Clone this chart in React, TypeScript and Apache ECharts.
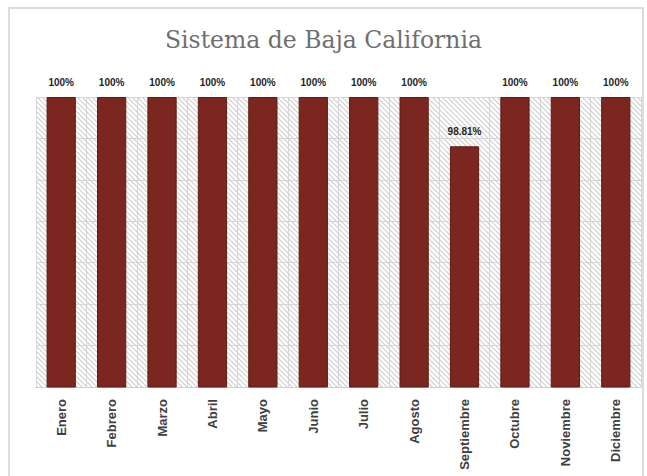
import React, { useEffect, useRef } from "react";
import * as echarts from "echarts";

const months = ["Enero", "Febrero", "Marzo", "Abril", "Mayo", "Junio", "Julio", "Agosto", "Septiembre", "Octubre", "Noviembre", "Diciembre"];
const values = [100, 100, 100, 100, 100, 100, 100, 100, 98.81, 100, 100, 100];
const yMin = 93;
const yMax = 100;
const yStep = 1;

function makeHatch(): HTMLCanvasElement {
  const c = document.createElement("canvas");
  const s = 5;
  c.width = s;
  c.height = s;
  const ctx = c.getContext("2d")!;
  ctx.fillStyle = "#ffffff";
  ctx.fillRect(0, 0, s, s);
  ctx.strokeStyle = "#cfcfcf";
  ctx.lineWidth = 1.2;
  ctx.beginPath();
  ctx.moveTo(-1, -1);
  ctx.lineTo(s + 1, s + 1);
  ctx.moveTo(-1, s - 1);
  ctx.lineTo(1, s + 1);
  ctx.moveTo(s - 1, -1);
  ctx.lineTo(s + 1, 1);
  ctx.stroke();
  return c;
}

export default function App() {
  const ref = useRef<HTMLDivElement>(null);
  useEffect(() => {
    if (!ref.current) return;
    const chart = echarts.init(ref.current, null, { renderer: "svg" });
    chart.setOption({
      animation: false,
      backgroundColor: "#ffffff",
      title: {
        text: "Sistema de Baja California",
        left: "center",
        top: 23,
        textStyle: { fontFamily: "DejaVu Serif", fontSize: 23.5, fontWeight: "normal", color: "#6f6f6f" },
      },
      graphic: [
        {
          type: "rect",
          shape: { x: 9, y: 8, width: 634, height: 480 },
          style: { fill: "none", stroke: "#dcdcdc", lineWidth: 2 },
          silent: true,
        },
      ],
      grid: {
        left: 36,
        right: 6,
        top: 97,
        bottom: 89,
        show: true,
        borderWidth: 0,
        backgroundColor: { image: makeHatch(), repeat: "repeat" } as any,
      },
      xAxis: {
        type: "category",
        data: months,
        axisTick: { show: false },
        axisLine: { show: true, lineStyle: { color: "#d0d0d0" } },
        splitLine: { show: true, lineStyle: { color: "#d6d6d6", width: 1 } },
        axisLabel: {
          rotate: 90,
          margin: 12,
          fontFamily: "Liberation Sans",
          fontWeight: "bold",
          fontSize: 13,
          color: "#404040",
        },
      },
      yAxis: {
        type: "value",
        min: yMin,
        max: yMax,
        interval: yStep,
        axisLabel: { show: false },
        axisLine: { show: false },
        axisTick: { show: false },
        splitLine: { show: true, lineStyle: { color: "#d6d6d6", width: 1 } },
      },
      series: [
        {
          type: "bar",
          data: values,
          barWidth: "58%",
          itemStyle: { color: "#7b261f", borderColor: "#5e1b15", borderWidth: 1 },
          label: {
            show: true,
            position: "top",
            distance: 10,
            fontFamily: "Liberation Sans",
            fontWeight: "bold",
            fontSize: 10,
            color: "#262626",
            formatter: (p: any) => (p.value === 100 ? "100%" : p.value.toFixed(2) + "%"),
          },
        },
      ],
    });
    return () => chart.dispose();
  }, []);
  return <div ref={ref} style={{ position: "fixed", left: 0, top: 0, width: 647, height: 476 }} />;
}
